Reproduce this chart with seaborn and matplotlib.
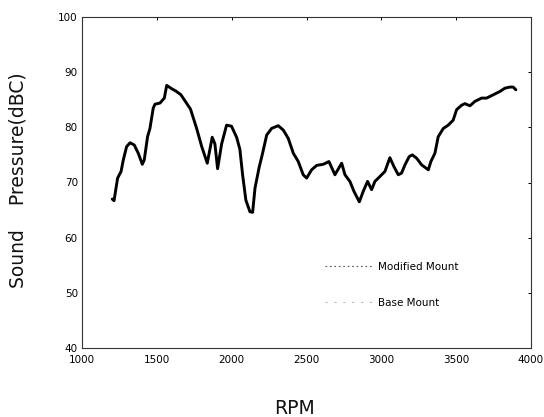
import matplotlib
matplotlib.use("Agg")
import matplotlib.pyplot as plt
from matplotlib.lines import Line2D
import seaborn as sns
import pandas as pd

# Engine speed sweep (RPM) and measured sound pressure level (dBC)
rpm = [1202, 1214, 1238, 1261, 1276, 1298, 1321, 1349, 1376, 1403, 1416, 1438,
       1454, 1476, 1488, 1521, 1550, 1566, 1577, 1599, 1626, 1661, 1725, 1766,
       1800, 1837, 1870, 1888, 1906, 1933, 1966, 1999, 2033, 2055, 2073, 2095,
       2122, 2140, 2156, 2184, 2204, 2234, 2267, 2311, 2345, 2378, 2412, 2445,
       2478, 2501, 2534, 2568, 2612, 2650, 2690, 2735, 2757, 2790, 2817, 2853,
       2879, 2908, 2935, 2957, 2991, 3024, 3057, 3084, 3113, 3135, 3158, 3186,
       3207, 3236, 3269, 3314, 3331, 3358, 3380, 3414, 3447, 3480, 3503, 3536,
       3558, 3592, 3625, 3670, 3703, 3748, 3792, 3826, 3859, 3881, 3899]
spl_dbc = [67.0, 66.7, 70.8, 72.0, 74.1, 76.5, 77.2, 76.8, 75.3, 73.3, 74.1, 78.3,
           79.8, 83.5, 84.2, 84.4, 85.3, 87.6, 87.4, 87.0, 86.6, 85.9, 83.3, 79.8,
           76.5, 73.5, 78.2, 77.0, 72.5, 77.0, 80.4, 80.2, 78.2, 76.0, 71.4, 66.8,
           64.7, 64.6, 69.0, 72.8, 75.0, 78.6, 79.8, 80.3, 79.5, 78.0, 75.3, 73.8,
           71.4, 70.8, 72.3, 73.1, 73.3, 73.8, 71.4, 73.5, 71.4, 70.2, 68.4, 66.5,
           68.4, 70.2, 68.7, 70.2, 71.1, 72.0, 74.5, 72.9, 71.4, 71.7, 73.2, 74.7,
           75.0, 74.4, 73.2, 72.3, 73.8, 75.3, 78.3, 79.8, 80.4, 81.3, 83.2, 84.0,
           84.3, 83.9, 84.7, 85.3, 85.3, 85.9, 86.5, 87.1, 87.3, 87.3, 86.8]

x_ticks = [1000, 1500, 2000, 2500, 3000, 3500, 4000]
y_ticks = [40, 50, 60, 70, 80, 90, 100]
series_names = ["Modified Mount", "Base Mount"]

sns.set_theme(style="white")
plt.rcParams["font.family"] = ["DejaVu Sans"]
plt.rcParams["text.color"] = "black"

fig = plt.figure(figsize=(5.44, 4.17), dpi=100)
ax = fig.add_axes([82 / 544, 1 - 348 / 417, (531 - 82) / 544, (348 - 17) / 417])

df = pd.DataFrame({"RPM": rpm, "SPL": spl_dbc})
sns.lineplot(data=df, x="RPM", y="SPL", ax=ax, color="black", linewidth=2.1,
             legend=False)

ax.set_xlim(1000, 4000)
ax.set_ylim(40, 100)
ax.set_xticks(x_ticks)
ax.set_yticks(y_ticks)
ax.set_xticklabels([str(t) for t in x_ticks])
ax.set_yticklabels([str(t) for t in y_ticks])
ax.tick_params(direction="in", length=2.5, width=0.7, labelsize=7.5,
               top=True, right=True, colors="black")
ax.tick_params(axis="x", pad=5)
ax.tick_params(axis="y", pad=3)
ax.set_xlabel("")
ax.set_ylabel("")
for s in ax.spines.values():
    s.set_color("#333333")
    s.set_linewidth(0.8)

handles = [
    Line2D([], [], color="#555555", linestyle=(0, (1.5, 2.5)), linewidth=0.8),
    Line2D([], [], color="#bbbbbb", linestyle=(0, (2, 6)), linewidth=0.8),
]
leg = ax.legend(handles, series_names, loc="center left",
                bbox_to_anchor=((325 - 82) / 449, (348 - 285) / 331),
                frameon=False, fontsize=7.5, handlelength=4.6, handletextpad=0.5,
                labelspacing=2.5, borderpad=0, borderaxespad=0)
for t in leg.get_texts():
    t.set_color("black")

fig.text(18 / 544, 1 - 180 / 417, "Sound    Pressure(dBC)", rotation=90,
         ha="center", va="center", fontsize=13.5, color="#111111")
fig.text(295 / 544, 1 - 408 / 417, "RPM", ha="center", va="center",
         fontsize=13.5, color="#111111")

fig.savefig("out.png", dpi=100)
